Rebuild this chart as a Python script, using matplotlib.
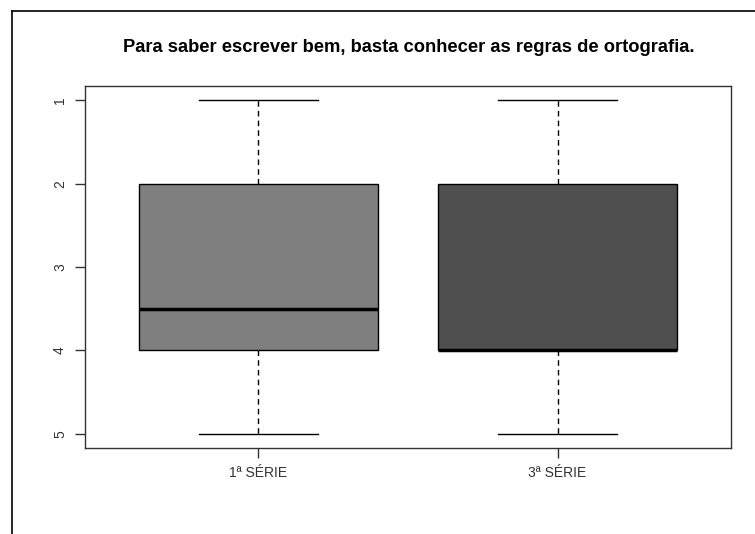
import matplotlib
matplotlib.use("Agg")
import matplotlib.pyplot as plt
from matplotlib.lines import Line2D

plt.rcParams['font.family'] = ['Liberation Sans', 'DejaVu Sans']

# valores
series   = ["1ª SÉRIE", "3ª SÉRIE"]
whislo   = [1, 1]
q1       = [2, 2]
med      = [3.5, 4]
q3       = [4, 4]
whishi   = [5, 5]
cores    = ["#7f7f7f", "#4f4f4f"]

stats = []
for i in range(len(series)):
    stats.append({'label': series[i], 'whislo': whislo[i], 'q1': q1[i],
                  'med': med[i], 'q3': q3[i], 'whishi': whishi[i], 'fliers': []})

fg = plt.figure(figsize=(7.55, 5.34), dpi=100)
ax = fg.add_axes([85/755, 1-448/534, (731-85)/755, (448-86)/534])

bp = ax.bxp(stats, positions=[1, 2], widths=0.8, patch_artist=True,
            showfliers=False,
            boxprops=dict(edgecolor='black', linewidth=1.0),
            medianprops=dict(color='black', linewidth=2.5),
            whiskerprops=dict(color='black', linestyle=(0, (4, 3)), linewidth=1.0),
            capprops=dict(color='black', linewidth=1.0),
            capwidths=0.4)
for p, c in zip(bp['boxes'], cores):
    p.set_facecolor(c)

ax.set_xlim(0.42, 2.58)
ax.set_ylim(5.17, 0.83)
ax.set_yticks([1, 2, 3, 4, 5])
ax.set_yticklabels(["1", "2", "3", "4", "5"], rotation=90, va='center')
ax.tick_params(axis='both', labelsize=10, length=7, width=1, color='#333333', labelcolor='#333333')
ax.tick_params(axis='y', pad=6)
ax.tick_params(axis='x', pad=6)
for s in ax.spines.values():
    s.set_linewidth(1.0)
    s.set_color('#333333')

fg.text(409/755, 1-48/534, "Para saber escrever bem, basta conhecer as regras de ortografia.",
        ha='center', va='center', fontsize=13.2, fontweight='bold')

# moldura externa (recortada a direita e embaixo)
fg.add_artist(Line2D([12/755, 12/755], [0, 1-11/534], color='black', linewidth=1.2))
fg.add_artist(Line2D([12/755, 1], [1-11/534, 1-11/534], color='black', linewidth=1.2))

fg.savefig("out.png", dpi=100)
plt.close(fg)
